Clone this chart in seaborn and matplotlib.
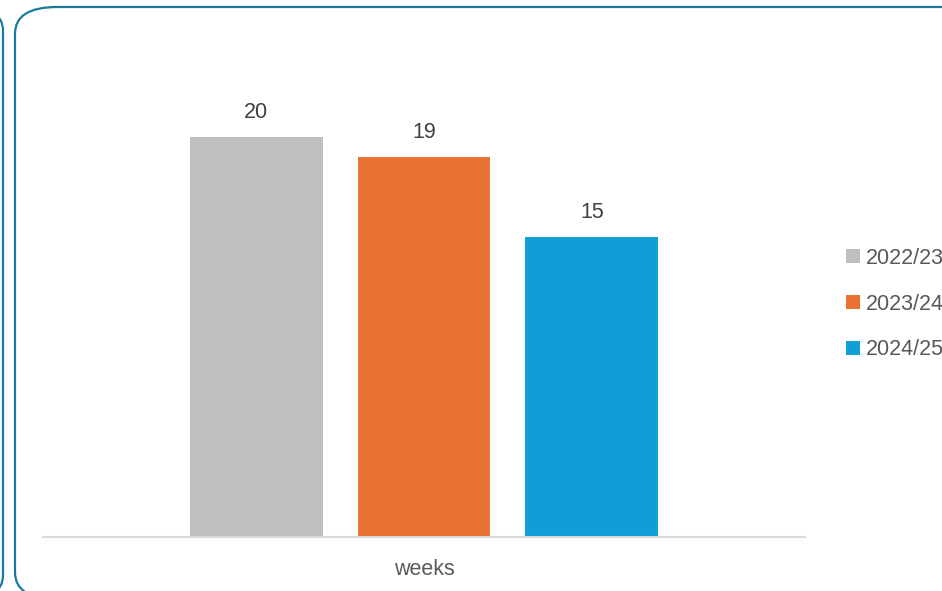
import matplotlib
matplotlib.use("Agg")
import matplotlib.pyplot as plt
import pandas as pd
import seaborn as sns
from matplotlib.patches import FancyBboxPatch, Patch

seasons = ["2022/23", "2023/24", "2024/25"]
values = [20, 19, 15]
category = ["weeks", "weeks", "weeks"]
colors = ["#BFBFBF", "#E97132", "#0F9ED5"]

df = pd.DataFrame({"metric": category, "season": seasons, "value": values})

sns.set_theme(style="white")
plt.rcParams["font.family"] = ["Liberation Sans", "DejaVu Sans"]

W, H = 942, 591
fig = plt.figure(figsize=(W / 100, H / 100), dpi=100)

# card borders (right edge of the neighbour card + this card)
frame = "#1A7A9C"
top = (H - 7) / H
bot = -8 / H
fig.patches.append(FancyBboxPatch((-60 / W, bot), 63 / W, top - bot,
                                  boxstyle="round,pad=0,rounding_size=0.04",
                                  transform=fig.transFigure, fill=False,
                                  edgecolor=frame, linewidth=1.6))
fig.patches.append(FancyBboxPatch((15 / W, bot), (W + 60) / W, top - bot,
                                  boxstyle="round,pad=0,rounding_size=0.045",
                                  transform=fig.transFigure, fill=False,
                                  edgecolor=frame, linewidth=1.6))

ax = fig.add_axes([43 / W, (H - 537) / H, 762 / W, 500 / H])
sns.barplot(data=df, x="metric", y="value", hue="season", palette=colors,
            width=0.661, gap=0.208, saturation=1, linewidth=0, ax=ax, legend=False)

ax.set_ylim(0, 25)
ax.set_xlim(-0.5, 0.5)
ax.set_yticks([])
ax.set_xlabel("")
ax.set_ylabel("")
for s in ["top", "left", "right"]:
    ax.spines[s].set_visible(False)
ax.spines["bottom"].set_color("#D9D9D9")
ax.spines["bottom"].set_linewidth(1.5)
ax.tick_params(axis="x", length=0, pad=16, labelsize=15.5, labelcolor="#595959")

for cont in ax.containers:
    ax.bar_label(cont, padding=10, fontsize=15.5, color="#404040")

handles = [Patch(facecolor=c, edgecolor="none") for c in colors]
fig.legend(handles, seasons, loc="center left", bbox_to_anchor=(837 / W, (H - 304) / H),
           frameon=False, fontsize=15.5, labelcolor="#595959",
           handlelength=0.65, handleheight=0.65, handletextpad=0.3, labelspacing=1.15,
           borderaxespad=0)

fig.savefig("out.png", dpi=100)
